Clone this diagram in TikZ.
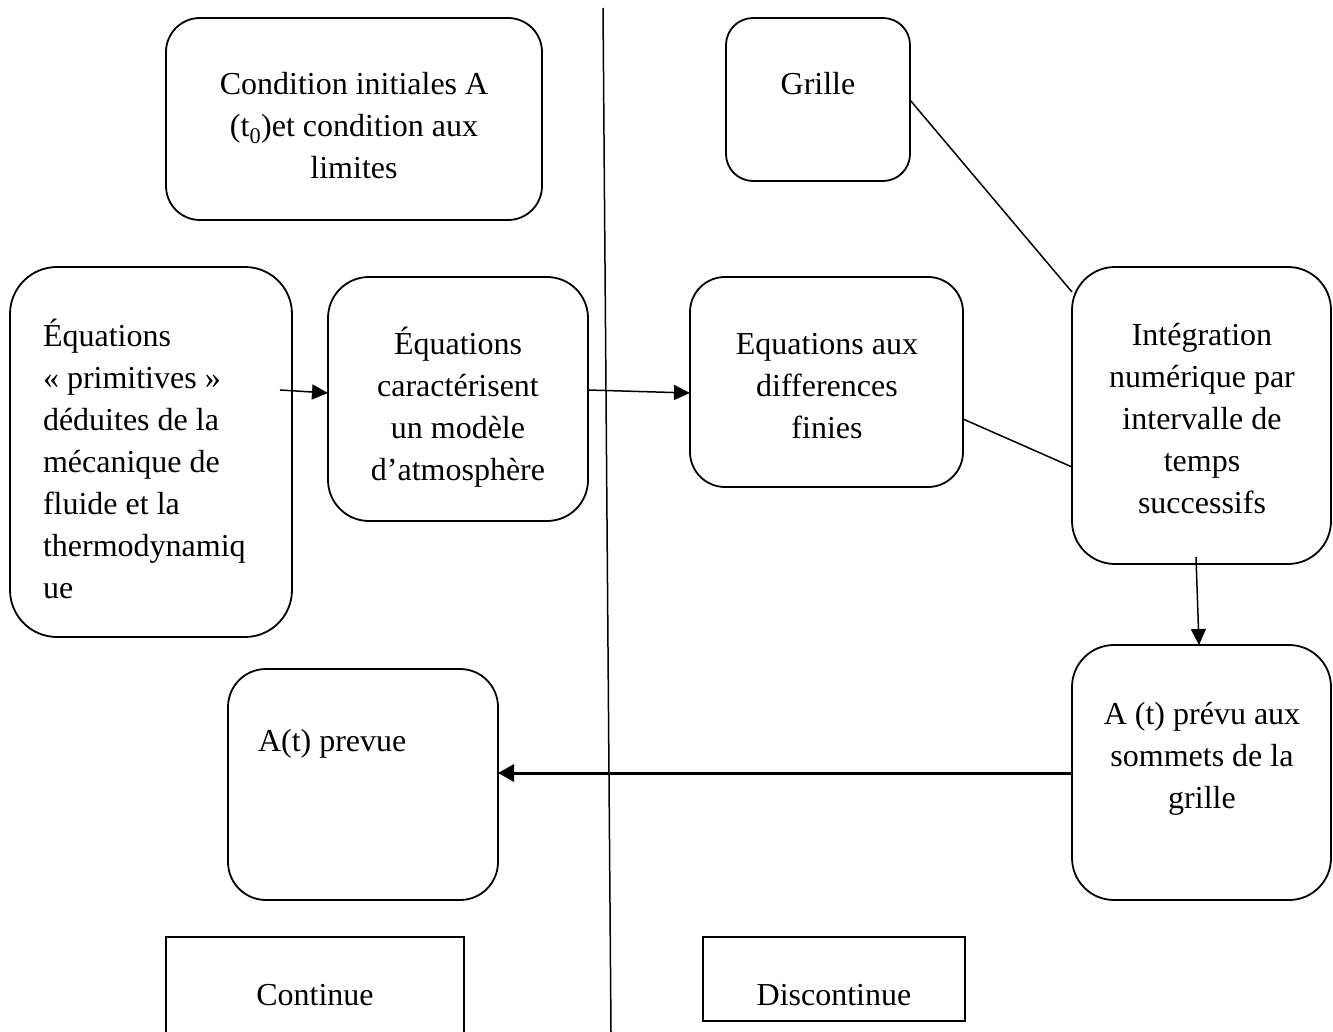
\documentclass[tikz,border=0pt]{standalone}
\usepackage{fontspec}
\setmainfont{Liberation Serif}
\usetikzlibrary{arrows.meta}
\begin{document}
\begin{tikzpicture}[x=1pt,y=-1pt,
  rbox/.style={draw, line width=1.8pt, rounded corners=#1, outer sep=0pt, inner sep=0pt, anchor=north west},
  sbox/.style={draw, line width=1.8pt, outer sep=0pt, inner sep=0pt, anchor=north west},
  txt/.style={font=\fontsize{32}{42}\selectfont, inner sep=0pt, outer sep=0pt},
  arr/.style={-{Triangle[length=16pt,width=15pt]}, line width=1.5pt},
  bigarr/.style={-{Triangle[length=16pt,width=17pt]}, line width=3pt},
  ln/.style={line width=1.5pt}]
\useasboundingbox (0,0) rectangle (1333,1032);

% divider
\coordinate (dtop) at (603,8);
\coordinate (dbot) at (611,1032);
\draw[line width=1.5pt] (dtop) -- (dbot);

% boxes
\node[rbox=34, minimum width=376pt, minimum height=202pt] (cond) at (166,18) {};
\node[rbox=27, minimum width=184pt, minimum height=163pt] (gri) at (726,18) {};
\node[rbox=47, minimum width=282pt, minimum height=370pt] (prim) at (10,267) {};
\node[rbox=41, minimum width=260pt, minimum height=244pt] (car) at (328,277) {};
\node[rbox=35, minimum width=273pt, minimum height=210pt] (dif) at (690,277) {};
\node[rbox=43, minimum width=259pt, minimum height=297pt] (int) at (1072,267) {};
\node[rbox=42, minimum width=259pt, minimum height=255pt] (prev) at (1072,645) {};
\node[rbox=38, minimum width=270pt, minimum height=231pt] (apre) at (228,669) {};
\node[sbox, minimum width=298pt, minimum height=120pt] (cont) at (166,937) {};
\node[sbox, minimum width=262pt, minimum height=84pt] (disc) at (703,937) {};

% texts (base anchor = baseline of the last line)
\node[txt, anchor=base, align=center] (tcond) at (354,179) {Condition initiales A\\(t\textsubscript{0})et condition aux\\limites};
\node[txt, anchor=base] (tgri) at (818,95) {Grille};
\node[txt, anchor=base west, align=left] (tprim) at (43,598) {Équations\\« primitives »\\déduites de la\\mécanique de\\fluide et la\\thermodynamiq\\ue};
\node[txt, anchor=base, align=center] (tcar) at (458,480) {Équations\\caractérisent\\un modèle\\d’atmosphère};
\node[txt, anchor=base, align=center] (tdif) at (827,438) {Equations aux\\differences\\finies};
\node[txt, anchor=base, align=center] (tint) at (1202,513) {Intégration\\numérique par\\intervalle de\\temps\\successifs};
\node[txt, anchor=base, align=center] (tprev) at (1202,808) {A (t) prévu aux\\sommets de la\\grille};
\node[txt, anchor=base west] (tapre) at (258,751) {A(t) prevue};
\node[txt, anchor=base] (tcont) at (315,1005) {Continue};
\node[txt, anchor=base] (tdisc) at (834,1005) {Discontinue};

% connectors
\draw[arr] ([xshift=-12pt]prim.east |- 0,390) -- (car.west |- 0,393);
\draw[arr] (car.east |- 0,390) -- (dif.west |- 0,393);
\draw[ln] (gri.east |- 0,100) -- (int.west |- 0,292);
\draw[ln] (dif.east |- 0,419) -- (int.west |- 0,467);
\draw[arr] (1196,557) -- (prev.north -| 1199,0);
\draw[bigarr] (prev.west |- 0,773) -- (apre.east |- 0,773);
\end{tikzpicture}
\end{document}
